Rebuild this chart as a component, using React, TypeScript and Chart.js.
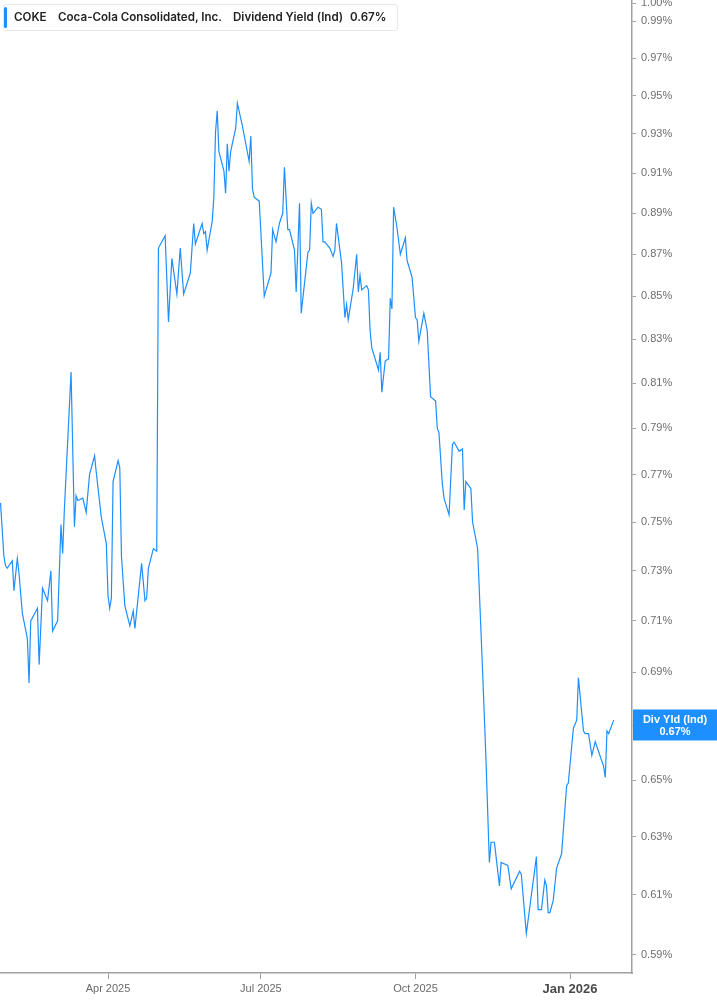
import { useEffect, useRef } from 'react'
import { Chart, registerables } from 'chart.js'

Chart.register(...registerables)

// Trading dates and dividend yield in %
const dates = [
  '2025-01-27', '2025-01-29', '2025-01-30', '2025-01-31', '2025-02-03', '2025-02-04', '2025-02-06', '2025-02-07',
  '2025-02-09', '2025-02-12', '2025-02-13', '2025-02-14', '2025-02-18', '2025-02-19', '2025-02-21', '2025-02-24',
  '2025-02-26', '2025-02-27', '2025-03-02', '2025-03-04', '2025-03-05', '2025-03-06', '2025-03-10', '2025-03-12',
  '2025-03-13', '2025-03-14', '2025-03-17', '2025-03-19', '2025-03-21', '2025-03-24', '2025-03-25', '2025-03-28',
  '2025-03-31', '2025-04-01', '2025-04-02', '2025-04-03', '2025-04-04', '2025-04-07', '2025-04-08', '2025-04-09',
  '2025-04-11', '2025-04-14', '2025-04-16', '2025-04-17', '2025-04-21', '2025-04-23', '2025-04-24', '2025-04-25',
  '2025-04-28', '2025-04-30', '2025-05-01', '2025-05-05', '2025-05-07', '2025-05-09', '2025-05-12', '2025-05-14',
  '2025-05-16', '2025-05-20', '2025-05-22', '2025-05-23', '2025-05-27', '2025-05-28', '2025-05-29', '2025-05-30',
  '2025-06-02', '2025-06-03', '2025-06-04', '2025-06-05', '2025-06-06', '2025-06-09', '2025-06-10', '2025-06-11',
  '2025-06-12', '2025-06-13', '2025-06-16', '2025-06-17', '2025-06-20', '2025-06-24', '2025-06-25', '2025-06-26',
  '2025-06-27', '2025-06-30', '2025-07-02', '2025-07-03', '2025-07-07', '2025-07-08', '2025-07-10', '2025-07-12',
  '2025-07-14', '2025-07-15', '2025-07-17', '2025-07-18', '2025-07-21', '2025-07-22', '2025-07-24', '2025-07-25',
  '2025-07-29', '2025-07-30', '2025-07-31', '2025-08-01', '2025-08-04', '2025-08-06', '2025-08-07', '2025-08-08',
  '2025-08-11', '2025-08-13', '2025-08-14', '2025-08-15', '2025-08-18', '2025-08-20', '2025-08-21', '2025-08-22',
  '2025-08-25', '2025-08-27', '2025-08-28', '2025-08-29', '2025-08-30', '2025-09-02', '2025-09-03', '2025-09-04',
  '2025-09-05', '2025-09-09', '2025-09-10', '2025-09-11', '2025-09-13', '2025-09-15', '2025-09-16', '2025-09-17',
  '2025-09-18', '2025-09-20', '2025-09-22', '2025-09-25', '2025-09-26', '2025-09-29', '2025-10-01', '2025-10-02',
  '2025-10-03', '2025-10-06', '2025-10-08', '2025-10-10', '2025-10-13', '2025-10-14', '2025-10-15', '2025-10-17',
  '2025-10-18', '2025-10-21', '2025-10-23', '2025-10-24', '2025-10-27', '2025-10-29', '2025-10-30', '2025-10-31',
  '2025-11-03', '2025-11-04', '2025-11-07', '2025-11-10', '2025-11-12', '2025-11-14', '2025-11-15', '2025-11-17',
  '2025-11-20', '2025-11-21', '2025-11-25', '2025-11-27', '2025-12-02', '2025-12-03', '2025-12-06', '2025-12-12',
  '2025-12-13', '2025-12-15', '2025-12-17', '2025-12-18', '2025-12-19', '2025-12-20', '2025-12-22', '2025-12-24',
  '2025-12-27', '2025-12-30', '2025-12-31', '2026-01-03', '2026-01-05', '2026-01-06', '2026-01-09', '2026-01-10',
  '2026-01-12', '2026-01-14', '2026-01-16', '2026-01-21', '2026-01-22', '2026-01-23', '2026-01-24', '2026-01-27',
]

const yieldPct = [
  0.758, 0.736, 0.732, 0.731, 0.734, 0.722, 0.735, 0.729,
  0.713, 0.703, 0.686, 0.710, 0.715, 0.693, 0.723, 0.718,
  0.730, 0.706, 0.710, 0.749, 0.737, 0.755, 0.815, 0.748,
  0.761, 0.759, 0.760, 0.754, 0.770, 0.778, 0.771, 0.752,
  0.741, 0.720, 0.715, 0.719, 0.767, 0.776, 0.773, 0.736,
  0.716, 0.708, 0.714, 0.707, 0.733, 0.718, 0.719, 0.731,
  0.739, 0.738, 0.873, 0.879, 0.838, 0.868, 0.851, 0.873,
  0.851, 0.861, 0.885, 0.875, 0.885, 0.880, 0.881, 0.872,
  0.886, 0.898, 0.931, 0.942, 0.921, 0.911, 0.900, 0.925,
  0.911, 0.921, 0.933, 0.946, 0.934, 0.916, 0.929, 0.902,
  0.898, 0.896, 0.865, 0.850, 0.861, 0.882, 0.876, 0.885,
  0.890, 0.913, 0.882, 0.882, 0.872, 0.852, 0.895, 0.842,
  0.871, 0.872, 0.895, 0.890, 0.893, 0.892, 0.876, 0.876,
  0.873, 0.869, 0.872, 0.885, 0.866, 0.840, 0.846, 0.839,
  0.854, 0.870, 0.852, 0.860, 0.853, 0.855, 0.853, 0.834,
  0.826, 0.816, 0.824, 0.806, 0.820, 0.821, 0.849, 0.844,
  0.893, 0.883, 0.870, 0.878, 0.867, 0.859, 0.840, 0.839,
  0.829, 0.842, 0.834, 0.804, 0.802, 0.790, 0.788, 0.766,
  0.760, 0.753, 0.783, 0.784, 0.780, 0.781, 0.755, 0.767,
  0.764, 0.750, 0.739, 0.690, 0.657, 0.621, 0.628, 0.628,
  0.613, 0.621, 0.620, 0.612, 0.618, 0.617, 0.597, 0.623,
  0.605, 0.605, 0.615, 0.613, 0.604, 0.604, 0.608, 0.619,
  0.624, 0.648, 0.649, 0.669, 0.672, 0.688, 0.668, 0.667,
  0.667, 0.659, 0.664, 0.655, 0.651, 0.668, 0.667, 0.672,
]

const xTickDates = ['2025-04-01', '2025-07-01', '2025-10-01', '2026-01-01']
const xTickLabels = ['Apr 2025', 'Jul 2025', 'Oct 2025', 'Jan 2026']
const yTicks = [0.59, 0.61, 0.63, 0.65, 0.67, 0.69, 0.71, 0.73, 0.75, 0.77, 0.79, 0.81, 0.83, 0.85, 0.87, 0.89, 0.91, 0.93, 0.95, 0.97, 0.99, 1.0]

const ticker = 'COKE'
const company = 'Coca-Cola Consolidated, Inc.'
const metric = 'Dividend Yield (Ind)'
const badgeTitle = 'Div Yld (Ind)'

const BLUE = '#1e8fff'
const AXIS = '#a0a0a0'
const DAY = 86400000
const xMin = Date.UTC(2025, 0, 1) + 25.7 * DAY
const xMax = Date.UTC(2025, 0, 1) + 401.9 * DAY
const yMin = 0.5841
const yMax = 1.0017

const lastValue = yieldPct[yieldPct.length - 1]

const badgePlugin = {
  id: 'lastBadge',
  afterDraw(chart: Chart) {
    const { ctx, chartArea, scales } = chart
    const shown = Number(lastValue.toFixed(2))
    const y = scales.y.getPixelForValue(shown)
    const left = chartArea.right + 1
    const w = chart.width - left
    ctx.save()
    ctx.fillStyle = BLUE
    ctx.fillRect(left, y - 16, w, 31)
    ctx.fillStyle = '#ffffff'
    ctx.font = 'bold 11px "Liberation Sans", Arial, sans-serif'
    ctx.textAlign = 'center'
    ctx.textBaseline = 'middle'
    ctx.fillText(badgeTitle, left + w / 2, y - 6)
    ctx.fillText(shown.toFixed(2) + '%', left + w / 2, y + 6)
    ctx.restore()
  },
}

export default function App() {
  const canvasRef = useRef<HTMLCanvasElement>(null)
  const chartRef = useRef<Chart | null>(null)

  useEffect(() => {
    if (!canvasRef.current) return
    const points = dates.map((d, i) => ({ x: Date.parse(d), y: yieldPct[i] }))
    const janTick = Date.parse('2026-01-01')
    const narrow = '"Liberation Sans Narrow", "Liberation Sans", sans-serif'

    chartRef.current = new Chart(canvasRef.current, {
      type: 'line',
      data: {
        datasets: [{
          data: points,
          borderColor: BLUE,
          borderWidth: 1.2,
          pointRadius: 0,
          tension: 0,
          fill: false,
        }],
      },
      plugins: [badgePlugin],
      options: {
        animation: false,
        responsive: false,
        layout: { padding: 0, autoPadding: false },
        plugins: { legend: { display: false }, tooltip: { enabled: false } },
        scales: {
          x: {
            type: 'linear',
            min: xMin,
            max: xMax,
            border: { display: true, color: AXIS, width: 1.5 },
            grid: { drawOnChartArea: false, tickLength: 6, color: AXIS },
            ticks: {
              autoSkip: false,
              maxRotation: 0,
              padding: 3,
              callback: (_v: any, i: number) => xTickLabels[i],
              font: (c: any) => c.tick && c.tick.value === janTick
                ? { family: narrow, size: 13, weight: 'bold' }
                : { family: narrow, size: 11 },
              color: (c: any) => c.tick && c.tick.value === janTick ? '#4a4a4a' : '#6a6a6a',
            },
            afterBuildTicks: (s: any) => { s.ticks = xTickDates.map(d => ({ value: Date.parse(d) })) },
            afterFit: (s: any) => { s.height = 32; s.paddingLeft = 0; s.paddingRight = 0 },
          },
          y: {
            type: 'logarithmic',
            position: 'right',
            min: yMin,
            max: yMax,
            border: { display: true, color: AXIS, width: 1.5 },
            grid: { drawOnChartArea: false, tickLength: 4, color: AXIS },
            ticks: {
              autoSkip: false,
              padding: 5,
              callback: (v: any) => Number(v).toFixed(2) + '%',
              font: { family: '"Liberation Sans", Arial, sans-serif', size: 11 },
              color: '#6e6e6e',
            },
            // the log scale rounds its bounds, so put them back
            afterBuildTicks: (s: any) => {
              s.ticks = yTicks.map(v => ({ value: v }))
              s.min = yMin
              s.max = yMax
            },
            afterFit: (s: any) => { s.width = 85; s.paddingTop = 0; s.paddingBottom = 0 },
          },
        },
      },
    } as any)
    return () => { chartRef.current?.destroy() }
  }, [])

  const txt = { position: 'absolute' as const, top: 0, lineHeight: '25px', whiteSpace: 'nowrap' as const }

  return (
    <div style={{ position: 'fixed', left: 0, top: 0, width: 717, height: 1005, background: '#fff' }}>
      <canvas ref={canvasRef} width={717} height={1005} style={{ display: 'block' }} />
      <div style={{
        position: 'absolute', left: 3, top: 4, width: 393, height: 25, background: '#fff',
        border: '1px solid #e8e8e8', borderRadius: 3, fontFamily: 'Inter, sans-serif',
        fontSize: 11.6, fontWeight: 600, color: '#222',
      }}>
        <div style={{ position: 'absolute', left: 0, top: 2, width: 3, height: 21, background: BLUE, borderRadius: 2 }} />
        <span style={{ ...txt, left: 10 }}>{ticker}</span>
        <span style={{ ...txt, left: 54 }}>{company}</span>
        <span style={{ ...txt, left: 229 }}>{metric}</span>
        <span style={{ ...txt, left: 346 }}>{lastValue.toFixed(2)}%</span>
      </div>
    </div>
  )
}
